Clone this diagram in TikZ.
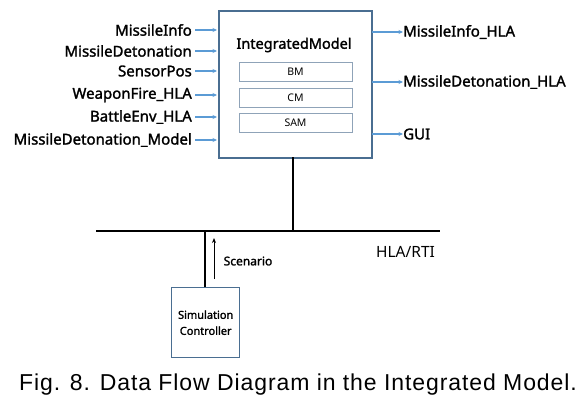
\documentclass[tikz,border=0pt]{standalone}
\usepackage{fontspec}
\setmainfont{Noto Sans}
\newfontfamily\capfont[LetterSpace=4]{Liberation Sans}
\newfontfamily\boldsans[FakeBold=1.6]{Noto Sans}
\usetikzlibrary{arrows.meta}
\definecolor{boxblue}{HTML}{4A6E91}
\definecolor{arrblue}{HTML}{5B9BD5}
\definecolor{innerb}{HTML}{8FA3B8}
\tikzset{
  lbl/.style={font=\boldsans\fontsize{15}{17}\selectfont, inner sep=0pt},
  inarr/.style={arrblue, line width=1.2pt, -{Stealth[length=4.5pt,width=4pt]}},
  thick bus/.style={line width=2.6pt, black},
  inner box/.style={draw=innerb, line width=0.6pt, font=\fontsize{10.5}{12}\selectfont},
}
\begin{document}
\begin{tikzpicture}[x=1pt,y=-1pt]
\useasboundingbox (0,0) rectangle (586,410);
% main box
\node[draw=boxblue, line width=1.5pt, minimum width=153pt, minimum height=147pt, inner sep=0pt, anchor=north west] (im) at (218,10) {};
\node[font=\boldsans\fontsize{14.5}{16}\selectfont] (imt) at (294,45) {IntegratedModel};
\node[inner box, minimum width=113pt, minimum height=19pt, inner sep=0pt] (bm) at (295.5,72) {BM};
\node[inner box, minimum width=113pt, minimum height=19pt, inner sep=0pt] (cm) at (295.5,97.5) {CM};
\node[inner box, minimum width=113pt, minimum height=19pt, inner sep=0pt] (sam) at (295.5,122.5) {SAM};
% left inputs
\foreach \n/\t/\y in {a/MissileInfo/30, b/MissileDetonation/51, c/SensorPos/71, d/WeaponFire\_HLA/95, e/BattleEnv\_HLA/117, f/MissileDetonation\_Model/140}{
  \node[lbl, anchor=east] (\n) at (192,\y) {\t};
  \coordinate (\n e) at (217,\y);
  \draw[inarr] (\n.east) ++(3,0) -- (\n e);
}
% right outputs
\foreach \n/\t/\y in {p/MissileInfo\_HLA/32, q/MissileDetonation\_HLA/82, r/GUI/134}{
  \node[lbl, anchor=west] (\n) at (403,\y) {\t};
  \coordinate (\n s) at (372,\y);
  \draw[inarr] (\n s) -- (\n.west);
}
% bus
\coordinate (busl) at (96,231);
\coordinate (busr) at (440,231);
\draw[thick bus] (busl) -- (busr);
\draw[thick bus] (293,157) -- (293,231);
\node[font=\fontsize{15.5}{17}\selectfont] (hla) at (405.5,252) {HLA/RTI};
% simulation controller
\node[draw=boxblue, line width=1.4pt, minimum width=68pt, minimum height=70pt, inner sep=0pt, anchor=north west, align=center, font=\boldsans\fontsize{11}{16}\selectfont] (sc) at (171,287) {Simulation\\Controller};
\draw[thick bus] (sc.north -| 205,0) -- (205,231);
\coordinate (sca) at (214,279);
\coordinate (scb) at (214,238);
\draw[line width=0.9pt, -{Stealth[length=5pt,width=4pt]}] (sca) -- (scb);
\node[font=\boldsans\fontsize{12}{14}\selectfont] (scen) at (248,261) {Scenario};
% caption
\node[font=\capfont\fontsize{23}{26}\selectfont] (cap) at (298,385) {Fig. 8. Data Flow Diagram in the Integrated Model.};
\end{tikzpicture}
\end{document}
